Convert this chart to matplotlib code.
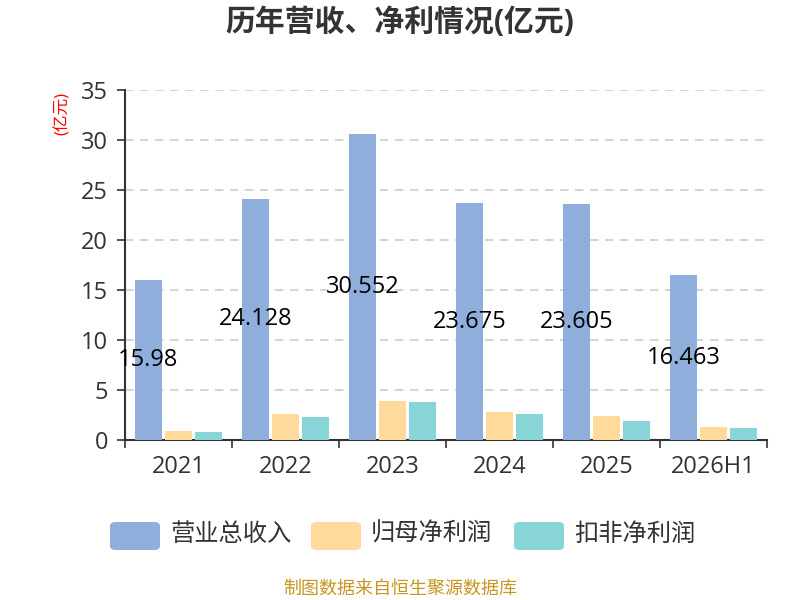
import matplotlib
matplotlib.use('Agg')
import matplotlib.pyplot as plt
import numpy as np
from matplotlib.patches import FancyBboxPatch

plt.rcParams['font.family'] = ['Open Sans', 'Noto Sans CJK SC', 'DejaVu Sans']

years = ['2021', '2022', '2023', '2024', '2025', '2026H1']
revenue = [15.98, 24.128, 30.552, 23.675, 23.605, 16.463]
net_profit = [0.93, 2.63, 3.90, 2.80, 2.40, 1.33]
net_profit_ex = [0.83, 2.33, 3.77, 2.60, 1.93, 1.23]
series_names = ['营业总收入', '归母净利润', '扣非净利润']
colors = ['#8FAEDB', '#FFDA9A', '#88D5D8']

fig = plt.figure(figsize=(8, 6), dpi=100)
ax = fig.add_axes([0.156, 0.2667, 0.803, 0.5833])

x = np.arange(len(years))
width = 0.25
step = 0.28
for i, vals in enumerate([revenue, net_profit, net_profit_ex]):
    ax.bar(x + (i - 1) * step, vals, width, color=colors[i], zorder=3)

# revenue labels in the middle of the blue bars
for xi, v in zip(x, revenue):
    ax.text(xi - step, v / 2, f'{v:g}', ha='center', va='center', fontsize=17,
            color='black', zorder=4)

ax.set_xlim(-0.5, len(years) - 0.5)
ax.set_ylim(0, 35)
ax.set_yticks(np.arange(0, 36, 5))
ax.set_xticks(np.arange(-0.5, len(years), 1.0))
ax.set_xticklabels([])
ax.set_xticks(x, minor=True)
ax.set_xticklabels(years, minor=True, fontsize=17, color='#333333')
ax.tick_params(axis='x', which='minor', length=0, pad=11)
ax.tick_params(axis='x', which='major', length=6, color='#333333', width=1.2)
ax.tick_params(axis='y', length=6, color='#333333', width=1.2, labelsize=17,
               labelcolor='#333333', pad=6)

ax.grid(axis='y', color='#cccccc', linestyle=(0, (5, 4)), linewidth=1.2, zorder=0)
for s in ['top', 'right']:
    ax.spines[s].set_visible(False)
for s in ['left', 'bottom']:
    ax.spines[s].set_color('#333333')
    ax.spines[s].set_linewidth(1.5)

fig.text(0.5, 0.962, '历年营收、净利情况(亿元)', ha='center', va='center',
         fontsize=21.5, fontweight='bold', color='#333333')
fig.text(0.078, 0.81, '(亿元)', rotation=90, ha='center', va='center',
         fontsize=12, color='red')

# legend
items_x = [110, 311, 514]
for name, c, lx in zip(series_names, colors, items_x):
    box = FancyBboxPatch((lx / 800, 1 - 550 / 600), 50 / 800, 28 / 600,
                         boxstyle='round,pad=0,rounding_size=0.007',
                         transform=fig.transFigure, color=c, ec='none')
    fig.patches.append(box)
    fig.text((lx + 60) / 800, 1 - 535 / 600, name, ha='left', va='center',
             fontsize=17.5, color='#333333')

fig.text(0.5, 1 - 589 / 600, '制图数据来自恒生聚源数据库', ha='center', va='center',
         fontsize=13, color='#C8961E')

fig.savefig('out.png', dpi=100)
